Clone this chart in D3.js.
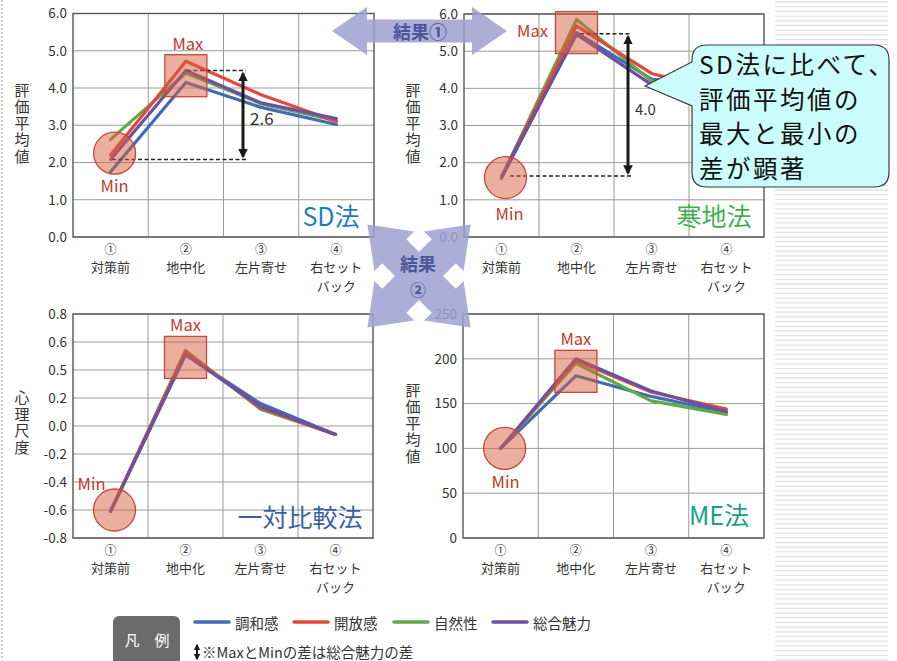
<!DOCTYPE html>
<html>
<head>
<meta charset="utf-8">
<script src="https://cdn.jsdelivr.net/npm/d3@7"></script>
<style>
  body { margin: 0; background: #fff; }
  svg { display: block; font-family: "Noto Sans CJK JP", "Noto Sans", sans-serif; }
</style>
</head>
<body>
<svg id="chart" width="897" height="661"></svg>
<script>
// categories / series
const categories = ['対策前', '地中化', '左片寄せ', '右セット'];
const categorySub = ['', '', '', 'バック'];
const categoryNums = ['①', '②', '③', '④'];
const seriesNames = ['調和感', '開放感', '自然性', '総合魅力'];
const seriesColors = ['#3f6cb4', '#e04a3c', '#63a846', '#6e50a0'];
const drawOrder = [0, 2, 1, 3];

// values, one row per series (調和感, 開放感, 自然性, 総合魅力)
const sdValues = [
    [1.75, 4.15, 3.48, 3.02],
    [2.2, 4.72, 3.82, 3.1],
    [2.62, 4.4, 3.58, 3.12],
    [2.08, 4.47, 3.6, 3.18],
];
const kanchiValues = [
    [1.58, 5.5, 4.25, 3.95],
    [1.62, 5.68, 4.4, 3.9],
    [1.6, 5.85, 4.2, 3.95],
    [1.62, 5.45, 4.1, 3.95],
];
const ittaiValues = [
    [-0.61, 0.51, 0.16, -0.06],
    [-0.61, 0.53, 0.13, -0.06],
    [-0.61, 0.54, 0.12, -0.06],
    [-0.61, 0.51, 0.14, -0.06],
];
const meValues = [
    [100, 181, 158, 140],
    [100, 198, 163, 144],
    [100, 195, 153, 138],
    [100, 200, 164, 141],
];

// tick labels
const sdTicks = [0, 1, 2, 3, 4, 5, 6];
const sdTickLabels = ['0.0', '1.0', '2.0', '3.0', '4.0', '5.0', '6.0'];
const ittaiTicks = [-0.8, -0.6, -0.4, -0.2, 0, 0.2, 0.4, 0.6, 0.8];
const ittaiTickLabels = ['-0.8', '-0.6', '-0.4', '-0.2', '0.0', '0.2', '0.5', '0.6', '0.8'];
const meTicks = [0, 50, 100, 150, 200, 250];
const meTickLabels = ['0', '50', '100', '150', '200', '250'];

// max / min markers (value at marker centre) and the difference arrows
const maxMarks = [4.33, 5.5, 0.49, 186];
const minMarks = [2.25, 1.6, -0.6, 100];
const diffTop = [4.47, 5.47];
const diffBottom = [2.08, 1.64];
const diffLabels = ['2.6', '4.0'];

const svg = d3.select('#chart');
const markFill = 'rgba(214,96,64,0.5)';
const markStroke = '#c8463b';
const labelRed = '#c0392b';

// background decorations
svg.append('line')
    .attr('x1', 2).attr('x2', 2).attr('y1', 0).attr('y2', 661)
    .attr('stroke', '#d0d0d0').attr('stroke-width', 2).attr('stroke-dasharray', '2,2');
svg.append('g').selectAll('line')
    .data(d3.range(2, 661, 4.7))
    .join('line')
    .attr('x1', 775).attr('x2', 888)
    .attr('y1', (d) => d).attr('y2', (d) => d)
    .attr('stroke', '#e2e2e2').attr('stroke-width', 1.3);

const panels = [
    { left: 73, right: 374, top: 13.5, bottom: 237, domain: [0, 6], ticks: sdTicks, tickLabels: sdTickLabels,
      values: sdValues, title: '評価平均値', titleX: 22, titleY: 124, name: 'SD法', nameColor: '#1f7dbf', nameX: 331, nameY: 215,
      maxDx: 2, minDy: 32, minDx: 0, diff: 0, diffX: 243, dashMaxX: 187, dashMinX: 112 },
    { left: 464, right: 764, top: 14, bottom: 237, domain: [0, 6], ticks: sdTicks, tickLabels: sdTickLabels,
      values: kanchiValues, title: '評価平均値', titleX: 413, titleY: 124, name: '寒地法', nameColor: '#3fb04e', nameX: 714, nameY: 215,
      maxDx: -44, maxDy: 30, minDy: 35, minDx: 4, diff: 1, diffX: 628, dashMaxX: 580, dashMinX: 510 },
    { left: 73, right: 373, top: 314, bottom: 538, domain: [-0.8, 0.8], ticks: ittaiTicks, tickLabels: ittaiTickLabels,
      values: ittaiValues, title: '心理尺度', titleX: 22, titleY: 423, name: '一対比較法', nameColor: '#3c5fa4', nameX: 300, nameY: 516,
      maxDx: 0, minDy: -27, minDx: -23 },
    { left: 463, right: 764, top: 314, bottom: 538, domain: [0, 250], ticks: meTicks, tickLabels: meTickLabels,
      values: meValues, title: '評価平均値', titleX: 413, titleY: 424, name: 'ME法', nameColor: '#14a08e', nameX: 719, nameY: 514,
      maxDx: 0, minDy: 33, minDx: 1 },
];

svg.append('defs').append('marker')
    .attr('id', 'head')
    .attr('viewBox', '0 0 10 10')
    .attr('refX', 8).attr('refY', 5)
    .attr('markerWidth', 3.2).attr('markerHeight', 3.2)
    .attr('orient', 'auto-start-reverse')
    .append('path')
    .attr('d', 'M0,0 L10,5 L0,10 Z')
    .attr('fill', '#1a1a1a');

panels.forEach((p, pi) => {
    const g = svg.append('g');
    const x = d3.scaleBand().domain(categories).range([p.left, p.right]);
    const y = d3.scaleLinear().domain(p.domain).range([p.bottom, p.top]);
    const cx = (i) => x(categories[i]) + x.bandwidth() / 2;

    // grid
    g.append('g').selectAll('line')
        .data(p.ticks)
        .join('line')
        .attr('x1', p.left).attr('x2', p.right)
        .attr('y1', (d) => y(d)).attr('y2', (d) => y(d))
        .attr('stroke', '#9a9a9a').attr('stroke-width', 1);
    g.append('g').selectAll('line')
        .data(categories.slice(1))
        .join('line')
        .attr('x1', (d) => x(d)).attr('x2', (d) => x(d))
        .attr('y1', p.top).attr('y2', p.bottom)
        .attr('stroke', '#9a9a9a').attr('stroke-width', 1);
    g.append('rect')
        .attr('x', p.left).attr('y', p.top)
        .attr('width', p.right - p.left).attr('height', p.bottom - p.top)
        .attr('fill', 'none').attr('stroke', '#555').attr('stroke-width', 1.4);

    // y axis
    const ax = g.append('g')
        .attr('transform', `translate(${p.left},0)`)
        .call(d3.axisLeft(y).tickValues(p.ticks).tickSize(0).tickPadding(6)
            .tickFormat((d, i) => p.tickLabels[i]));
    ax.select('.domain').remove();
    ax.attr('font-family', null);
    ax.selectAll('text').attr('font-size', 13.5).attr('fill', '#333');

    // y title (vertical)
    g.append('text')
        .attr('x', p.titleX).attr('y', p.titleY)
        .attr('writing-mode', 'vertical-rl')
        .style('text-orientation', 'upright')
        .attr('text-anchor', 'middle')
        .attr('letter-spacing', 1.5)
        .attr('font-size', 15).attr('fill', '#333')
        .text(p.title);

    // x labels
    const xl = g.append('g').attr('fill', '#333').attr('text-anchor', 'middle');
    categories.forEach((c, i) => {
        xl.append('text').attr('x', cx(i)).attr('y', p.bottom + 11)
            .attr('dominant-baseline', 'central').attr('font-size', 12).text(categoryNums[i]);
        xl.append('text').attr('x', cx(i)).attr('y', p.bottom + 29.5)
            .attr('dominant-baseline', 'central').attr('font-size', 13).text(c);
        if (categorySub[i]) {
            xl.append('text').attr('x', cx(i)).attr('y', p.bottom + 48.5)
                .attr('dominant-baseline', 'central').attr('font-size', 13).text(categorySub[i]);
        }
    });

    // series
    const line = d3.line().x((d, i) => cx(i)).y((d) => y(d));
    drawOrder.forEach((s) => {
        g.append('path')
            .attr('d', line(p.values[s]))
            .attr('fill', 'none')
            .attr('stroke', seriesColors[s])
            .attr('stroke-width', 3.2)
            .attr('stroke-linejoin', 'round')
            .attr('stroke-linecap', 'round');
    });

    // difference annotation
    if (p.diff !== undefined) {
        const yt = y(diffTop[p.diff]);
        const yb = y(diffBottom[p.diff]);
        g.append('line').attr('x1', p.dashMaxX).attr('x2', p.diffX + 3).attr('y1', yt).attr('y2', yt)
            .attr('stroke', '#222').attr('stroke-width', 1.4).attr('stroke-dasharray', '4,2.5');
        g.append('line').attr('x1', p.dashMinX).attr('x2', p.diffX + 3).attr('y1', yb).attr('y2', yb)
            .attr('stroke', '#222').attr('stroke-width', 1.4).attr('stroke-dasharray', '4,2.5');
        g.append('line').attr('x1', p.diffX).attr('x2', p.diffX).attr('y1', yt + 3).attr('y2', yb - 3)
            .attr('stroke', '#1a1a1a').attr('stroke-width', 3)
            .attr('marker-start', 'url(#head)').attr('marker-end', 'url(#head)');
        g.append('text')
            .attr('x', p.diffX + 7).attr('y', (p.diff === 0) ? 117 : 108)
            .attr('dominant-baseline', 'central')
            .attr('font-size', p.diff === 0 ? 17 : 15).attr('fill', '#333')
            .text(diffLabels[p.diff]);
    }

    // max / min markers
    const mx = cx(1);
    const my = y(maxMarks[pi]);
    g.append('rect')
        .attr('x', mx - 21).attr('y', my - 21).attr('width', 42).attr('height', 42)
        .attr('fill', markFill).attr('stroke', markStroke).attr('stroke-width', 1.3);
    g.append('text')
        .attr('x', mx + p.maxDx).attr('y', my - 33 + (p.maxDy || 0))
        .attr('text-anchor', 'middle').attr('dominant-baseline', 'central')
        .attr('font-size', 16.5).attr('fill', labelRed)
        .text('Max');
    const nx = cx(0);
    const ny = y(minMarks[pi]);
    g.append('circle')
        .attr('cx', nx + 4).attr('cy', ny).attr('r', 21)
        .attr('fill', markFill).attr('stroke', markStroke).attr('stroke-width', 1.3);
    g.append('text')
        .attr('x', nx + 4 + p.minDx).attr('y', ny + p.minDy)
        .attr('text-anchor', 'middle').attr('dominant-baseline', 'central')
        .attr('font-size', 16.5).attr('fill', labelRed)
        .text('Min');

    // method name
    g.append('text')
        .attr('x', p.nameX).attr('y', p.nameY)
        .attr('text-anchor', 'middle').attr('dominant-baseline', 'central')
        .attr('font-size', 25).attr('fill', p.nameColor)
        .text(p.name);
});

// 結果 arrows
const arrowG = svg.append('g').attr('opacity', 0.85);
const arrowColor = '#9da1d0';
arrowG.append('path')
    .attr('d', 'M332,31 L367,7 L367,19.5 L472,19.5 L472,7 L507,31 L472,55 L472,42.5 L367,42.5 L367,55 Z')
    .attr('fill', arrowColor);

function armPath(cx, cy, angle, len, shaftW, headW, headL) {
    const pts = [[0, -shaftW], [len - headL, -shaftW], [len - headL, -headW], [len, 0],
        [len - headL, headW], [len - headL, shaftW], [0, shaftW]];
    const c = Math.cos(angle);
    const s = Math.sin(angle);
    return `M${pts.map(([px, py]) => `${cx + px * c - py * s},${cy + px * s + py * c}`).join('L')}Z`;
}
const crossX = 419;
const crossY = 276;
[-135, -45, 45, 135].forEach((deg) => {
    arrowG.append('path')
        .attr('d', armPath(crossX, crossY, deg * Math.PI / 180, 73, 17, 28, 38))
        .attr('fill', arrowColor);
});

svg.append('text')
    .attr('x', 420).attr('y', 31)
    .attr('text-anchor', 'middle').attr('dominant-baseline', 'central')
    .attr('font-size', 18).attr('font-weight', 'bold').attr('fill', '#4a5699')
    .text('結果①');
svg.append('text')
    .attr('x', 418).attr('y', 263)
    .attr('text-anchor', 'middle').attr('dominant-baseline', 'central')
    .attr('font-size', 18).attr('font-weight', 'bold').attr('fill', '#4a5699')
    .text('結果');
svg.append('text')
    .attr('x', 418).attr('y', 288.5)
    .attr('text-anchor', 'middle').attr('dominant-baseline', 'central')
    .attr('font-size', 16).attr('font-weight', 'bold').attr('fill', '#4a5699')
    .text('②');

// callout
const calloutLines = ['SD法に比べて、', '評価平均値の', '最大と最小の', '差が顕著'];
svg.append('path')
    .attr('d', 'M707,45 L874,45 Q889,45 889,60 L889,172 Q889,187 874,187 L707,187 Q692,187 692,172 '
        + 'L692,106 L645,86 L692,62 L692,60 Q692,45 707,45 Z')
    .attr('fill', '#ccfdfd').attr('stroke', '#3a3a3a').attr('stroke-width', 1.2);
svg.append('text')
    .attr('font-size', 24.5).attr('letter-spacing', 2.5).attr('fill', '#111')
    .selectAll('tspan')
    .data(calloutLines)
    .join('tspan')
    .attr('x', 699)
    .attr('y', (d, i) => 74 + i * 34.5)
    .text((d) => d);

// legend
svg.append('rect')
    .attr('x', 113).attr('y', 616).attr('width', 67).attr('height', 60).attr('rx', 6)
    .attr('fill', '#6b6b6b');
svg.append('text')
    .attr('x', 147).attr('y', 639)
    .attr('text-anchor', 'middle').attr('dominant-baseline', 'central')
    .attr('font-size', 15).attr('fill', '#fff')
    .text('凡　例');
const legendX = [195, 294, 394, 493];
seriesNames.forEach((n, i) => {
    svg.append('line')
        .attr('x1', legendX[i]).attr('x2', legendX[i] + 34)
        .attr('y1', 622).attr('y2', 622)
        .attr('stroke', seriesColors[i]).attr('stroke-width', 3.5).attr('stroke-linecap', 'round');
    svg.append('text')
        .attr('x', legendX[i] + 40).attr('y', 622)
        .attr('dominant-baseline', 'central')
        .attr('font-size', 14.5).attr('fill', '#333')
        .text(n);
});
svg.append('line')
    .attr('x1', 197).attr('x2', 197).attr('y1', 645).attr('y2', 659)
    .attr('stroke', '#1a1a1a').attr('stroke-width', 2)
    .attr('marker-start', 'url(#head)').attr('marker-end', 'url(#head)');
svg.append('text')
    .attr('x', 202).attr('y', 651)
    .attr('dominant-baseline', 'central')
    .attr('font-size', 14.5).attr('fill', '#333')
    .text('※MaxとMinの差は総合魅力の差');
</script>
</body>
</html>
